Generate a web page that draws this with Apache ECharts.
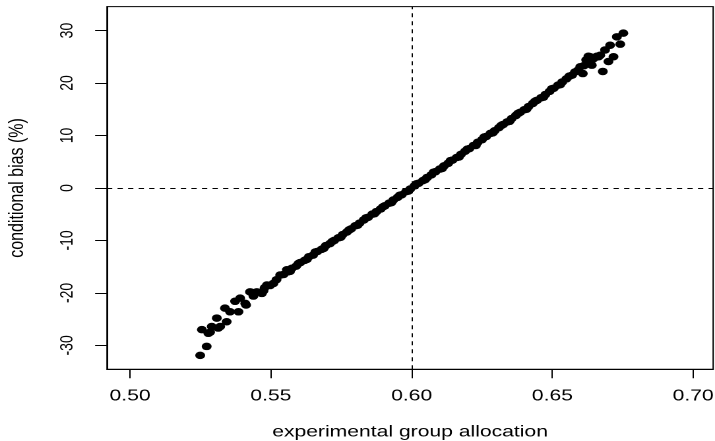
<!DOCTYPE html>
<html>
<head>
<meta charset="utf-8">
<script src="https://cdn.jsdelivr.net/npm/echarts@6/dist/echarts.min.js"></script>
<style>
html,body{margin:0;padding:0;background:#fff;overflow:hidden;width:715px;height:441px;}
#c{width:542px;height:441px;transform:scaleX(1.3192);transform-origin:0 0;}
</style>
</head>
<body>
<div id="c"></div>
<script>
// tick labels
const xTicks = [0.50, 0.55, 0.60, 0.65, 0.70];
const yTicks = [-30, -20, -10, 0, 10, 20, 30];

// lower end (scattered)
const lowAllocation = [0.5249,0.5272,0.5255,0.5278,0.5284,0.5290,0.5308,0.5313,0.5320,0.5343,0.5337,0.5355,0.5373,0.5385,0.5391,0.5409,0.5412,0.5426,0.5432,0.5438,0.5450,0.5468,0.5474,0.5478,0.5486,0.5497,0.5509,0.5520,0.5533,0.5545,0.5557];
const lowBias       = [-31.9,-30.2,-27.0,-27.7,-27.5,-26.4,-24.8,-26.7,-26.4,-25.5,-22.9,-23.6,-21.6,-23.6,-21.0,-22.0,-22.3,-19.8,-19.9,-20.6,-19.8,-20.1,-19.6,-19.0,-18.5,-18.6,-18.2,-17.5,-16.6,-16.5,-15.6];

// dense middle part
const midAllocation = [0.5560,0.5575,0.5590,0.5605,0.5620,0.5635,0.5650,0.5665,0.5680,0.5695,0.5710,0.5725,0.5740,0.5755,0.5770,0.5785,0.5800,0.5815,0.5830,0.5845,0.5860,0.5875,0.5890,0.5905,0.5920,0.5935,0.5950,0.5965,0.5980,0.5995,0.6010,0.6025,0.6040,0.6055,0.6070,0.6085,0.6100,0.6115,0.6130,0.6145,0.6160,0.6175,0.6190,0.6205,0.6220,0.6235,0.6250,0.6265,0.6280,0.6295,0.6310,0.6325,0.6340,0.6355,0.6370,0.6385,0.6400,0.6415,0.6430,0.6445,0.6460,0.6475,0.6490,0.6505,0.6520,0.6535,0.6550,
  0.5568,0.5598,0.5628,0.5658,0.5688,0.5718,0.5748,0.5778,0.5808,0.5838,0.5868,0.5898,0.5928,0.5958,0.5988,0.6018,0.6048,0.6078,0.6108,0.6138,0.6168,0.6198,0.6228,0.6258,0.6288,0.6318,0.6348,0.6378,0.6408,0.6438,0.6468,0.6498,0.6528];
const midBias       = [-16.0,-15.3,-14.9,-14.2,-13.8,-13.1,-12.8,-12.1,-11.7,-11.0,-10.6,-10.0,-9.5,-8.9,-8.4,-7.8,-7.2,-6.7,-6.1,-5.6,-5.0,-4.5,-4.0,-3.4,-2.9,-2.3,-1.8,-1.3,-0.7,-0.2,0.4,0.9,1.4,2.0,2.5,3.1,3.6,4.2,4.7,5.3,5.8,6.4,7.0,7.5,8.1,8.7,9.2,9.8,10.4,10.9,11.5,12.1,12.6,13.2,13.8,14.4,14.9,15.5,16.1,16.7,17.2,17.8,18.4,19.0,19.6,20.2,20.8,
  -15.9,-14.4,-13.6,-12.2,-11.5,-10.2,-9.4,-8.0,-7.1,-5.7,-4.9,-3.6,-2.8,-1.4,-0.6,0.8,1.6,3.0,3.7,5.2,5.9,7.4,8.1,9.7,10.5,11.9,12.7,14.2,15.0,16.5,17.3,18.9,19.7];

// upper end (scattered)
const highAllocation = [0.6560,0.6570,0.6580,0.6590,0.6599,0.6608,0.6612,0.6620,0.6628,0.6634,0.6640,0.6645,0.6658,0.6664,0.6670,0.6679,0.6687,0.6699,0.6705,0.6717,0.6729,0.6741,0.6752];
const highBias       = [21.3,21.5,22.1,22.4,23.1,21.8,23.3,24.4,25.1,25.0,23.4,24.6,25.1,25.0,25.3,22.2,26.3,24.1,27.2,25.0,28.8,27.4,29.5];

const allocation = lowAllocation.concat(midAllocation, highAllocation);
const bias = lowBias.concat(midBias, highBias);
const points = allocation.map((a, i) => [a, bias[i]]);

const FONT = '"Liberation Sans", Arial, Helvetica, sans-serif';
const chart = echarts.init(document.getElementById('c'), null, {renderer: 'canvas', devicePixelRatio: 2});
chart.setOption({
  animation: false,
  backgroundColor: '#fff',
  grid: {left: 81.1, right: 1.4, top: 6.6, bottom: 71.7, show: true, borderColor: '#000', borderWidth: 1,
         containLabel: false, outerBoundsMode: 'none'},
  xAxis: {
    type: 'value', min: 0.4918, max: 0.7071,
    splitLine: {show: false},
    axisLine: {show: true, onZero: false, lineStyle: {color: '#000', width: 1}},
    axisTick: {show: true, length: 9, customValues: xTicks, lineStyle: {color: '#000', width: 1}},
    axisLabel: {customValues: xTicks, formatter: v => v.toFixed(2), fontSize: 16, color: '#000', fontFamily: FONT, margin: 19},
    name: 'experimental group allocation', nameLocation: 'middle', nameGap: 55,
    nameTextStyle: {fontSize: 16, color: '#000', fontFamily: FONT}
  },
  yAxis: {
    type: 'value', min: -34.56, max: 34.56,
    splitLine: {show: false},
    axisLine: {show: true, onZero: false, lineStyle: {color: '#000', width: 1}},
    axisTick: {show: true, length: 9, customValues: yTicks, lineStyle: {color: '#000', width: 1}},
    axisLabel: {customValues: yTicks, formatter: v => String(v), rotate: 90, fontSize: 14, color: '#000', fontFamily: FONT, margin: 23},
    name: 'conditional bias (%)', nameLocation: 'middle', nameGap: 60,
    nameTextStyle: {fontSize: 16, color: '#000', fontFamily: FONT}
  },
  series: [{
    type: 'scatter',
    data: points,
    symbol: 'circle',
    symbolSize: 7.5,
    itemStyle: {color: '#000', opacity: 1},
    markLine: {
      silent: true, symbol: 'none', animation: false,
      label: {show: false},
      lineStyle: {color: '#000', width: 1, type: [4, 4]},
      data: [{xAxis: 0.6}, {yAxis: 0}]
    }
  }]
});
</script>
</body>
</html>
